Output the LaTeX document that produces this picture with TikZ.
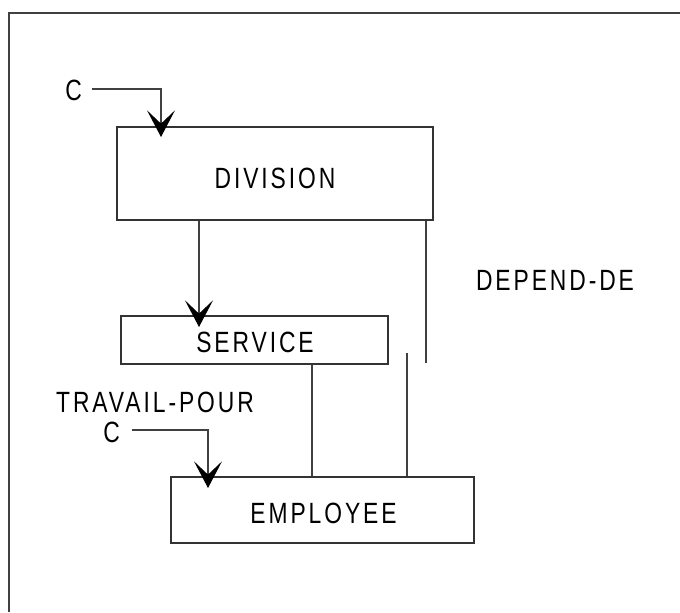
\documentclass[tikz,border=0pt]{standalone}
\usepackage{fontspec}
\setmainfont{Liberation Sans}[LetterSpace=10,FakeStretch=0.78]
\usetikzlibrary{arrows.meta}

\begin{document}
\begin{tikzpicture}[x=0.03cm,y=-0.03cm,
   rec/.style={draw=black!80,line width=0.9pt,inner sep=0pt},
   lbl/.style={inner sep=0pt,font=\fontsize{25}{29}\selectfont},
   lien/.style={draw=black!75,line width=0.9pt},
   fl/.style={lien,-{Stealth[length=8mm,width=8.4mm,inset=4mm,black]}}]
   \useasboundingbox (0,0) rectangle (680,612);
   \draw[black!75,line width=1.3pt] (9,612) -- (9,13) -- (680,13);
   % les records
   \node[rec,minimum width=316*0.03cm,minimum height=93*0.03cm] (div) at (275,173.5) {};
   \node[rec,minimum width=267*0.03cm,minimum height=48*0.03cm] (svc) at (254.5,340) {};
   \node[rec,minimum width=303*0.03cm,minimum height=66*0.03cm] (emp) at (322.5,510) {};
   \node[lbl] (tdiv) at (275,178) {DIVISION};
   \node[lbl] (tsvc) at (255,342) {SERVICE};
   \node[lbl] (temp) at (323.5,513.5) {EMPLOYEE};
   % les sets
   \node[lbl] (c1) at (73.5,90) {C};
   \node[lbl] (c2) at (111.5,432.5) {C};
   \node[lbl] (trav) at (155,402) {TRAVAIL-POUR};
   \node[lbl] (dep) at (555,280) {DEPEND-DE};
   \coordinate (p1) at (161,137);
   \coordinate (p2) at (208,488);
   \coordinate (p3) at (199,327);
   \draw[fl] (c1.east |- 0,89) ++(10,0) -| (p1);
   \draw[fl] (c2.east |- 0,430) ++(12,0) -| (p2);
   \draw[fl] (div.south -| p3) -- (p3);
   \coordinate (d1) at (426,363);
   \coordinate (d2) at (407,353);
   \draw[lien] (div.south -| d1) -- (d1);
   \draw[lien] (emp.north -| d2) -- (d2);
   \draw[lien] (svc.south -| 312,0) -- (emp.north -| 312,0);
\end{tikzpicture}
\end{document}
